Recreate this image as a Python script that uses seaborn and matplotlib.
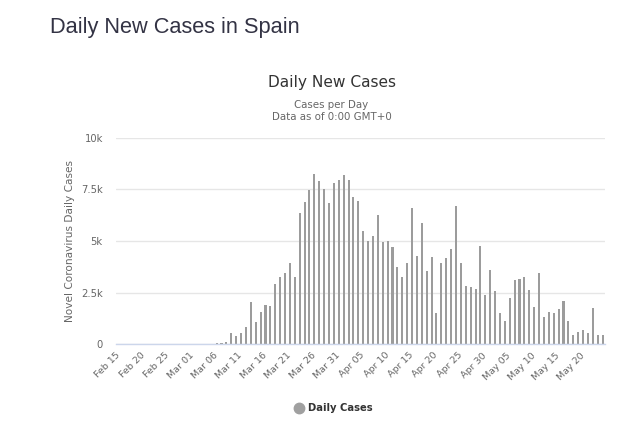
import matplotlib
matplotlib.use("Agg")
import matplotlib.pyplot as plt
from matplotlib.lines import Line2D
import seaborn as sns
import pandas as pd

# ---- data ----
dates = pd.date_range("2020-02-15", "2020-05-24", freq="D")
day_labels = [d.strftime("%b %d") for d in dates]
feb_early_mar = [0] * 20  # Feb 15 .. Mar 05
mar_cases = [80, 85, 90, 533, 404, 533, 840, 2036, 1099, 1551, 1907, 1858,
             2941, 3280, 3474, 3911, 3248, 6367, 6884, 7466, 8258, 7918,
             7514, 6852, 7805, 7967]  # Mar 06 .. Mar 31
apr_cases = [8177, 7967, 7110, 6933, 5462, 5010, 5236, 6270, 4961, 5010,
             4703, 3765, 3248, 3959, 6577, 4266, 5866, 3555, 4218, 1503,
             3959, 4169, 4622, 6706, 3959, 2828, 2763, 2666, 4767, 2392]
may_cases = [3604, 2569, 1503, 1147, 2230, 3119, 3167, 3248, 2634, 1826,
             3474, 1341, 1551, 1503, 1697, 2085, 1147, 452, 582, 679,
             533, 1745, 452, 452]
daily_cases = feb_early_mar + mar_cases + apr_cases + may_cases
tick_labels = day_labels[::5]
y_ticks = [0, 2500, 5000, 7500, 10000]
y_tick_labels = ["0", "2.5k", "5k", "7.5k", "10k"]

df = pd.DataFrame({"day": day_labels, "cases": daily_cases})

# ---- figure ----
sns.set_theme(style="white")
plt.rcParams["font.family"] = ["DejaVu Sans"]

W, H = 640, 441
fig = plt.figure(figsize=(W / 100, H / 100), dpi=100)
left, right, top, bottom = 116, 605, 137.7, 344.3
ax = fig.add_axes([left / W, 1 - bottom / H, (right - left) / W, (bottom - top) / H])

bar_color = "#9c9c9c"
sns.barplot(data=df, x="day", y="cases", color=bar_color, saturation=1,
            width=0.42, ax=ax, linewidth=0)

ax.set_xlim(-0.6, len(day_labels) - 0.5)
ax.set_ylim(0, 10000)
ax.set_yticks(y_ticks)
ax.set_yticklabels(y_tick_labels)
ax.set_xticks(range(0, len(day_labels), 5))
ax.set_xticklabels(tick_labels, rotation=45, ha="right", va="center",
                   rotation_mode="anchor")
ax.tick_params(axis="x", length=0, pad=7, labelsize=6.8, labelcolor="#666666")
ax.tick_params(axis="y", length=0, pad=9.5, labelsize=7.2, labelcolor="#666666")
ax.set_xlabel("")
ax.set_ylabel("Novel Coronavirus Daily Cases", fontsize=7.6, color="#666666")
ax.yaxis.set_label_coords(-0.083, 0.5)

ax.grid(axis="y", color="#e6e6e6", linewidth=1)
ax.set_axisbelow(True)
for s in ["top", "right", "left"]:
    ax.spines[s].set_visible(False)
ax.spines["bottom"].set_color("#ccd6eb")
ax.spines["bottom"].set_linewidth(1)

# ---- texts ----
fig.text(50 / W, 1 - 28 / H, "Daily New Cases in Spain", fontsize=15.7,
         color="#333344", ha="left", va="center",
         family=["Liberation Sans", "DejaVu Sans"])
fig.text(331.5 / W, 1 - 83 / H, "Daily New Cases", fontsize=11.1,
         color="#333333", ha="center", va="center")
fig.text(331.5 / W, 1 - 105 / H, "Cases per Day", fontsize=7.4,
         color="#666666", ha="center", va="center")
fig.text(331.5 / W, 1 - 117 / H, "Data as of 0:00 GMT+0", fontsize=7.4,
         color="#666666", ha="center", va="center")

handle = Line2D([], [], marker="o", linestyle="none", markersize=7.5,
                markerfacecolor="#a0a0a0", markeredgecolor="#a0a0a0")
leg = fig.legend([handle], ["Daily Cases"], loc="center",
                 bbox_to_anchor=(333 / W, 1 - 408 / H), frameon=False,
                 prop={"size": 7.2, "weight": "bold"}, handletextpad=0.3,
                 handlelength=1.2)
for t in leg.get_texts():
    t.set_color("#333333")

fig.savefig("out.png", dpi=100)
